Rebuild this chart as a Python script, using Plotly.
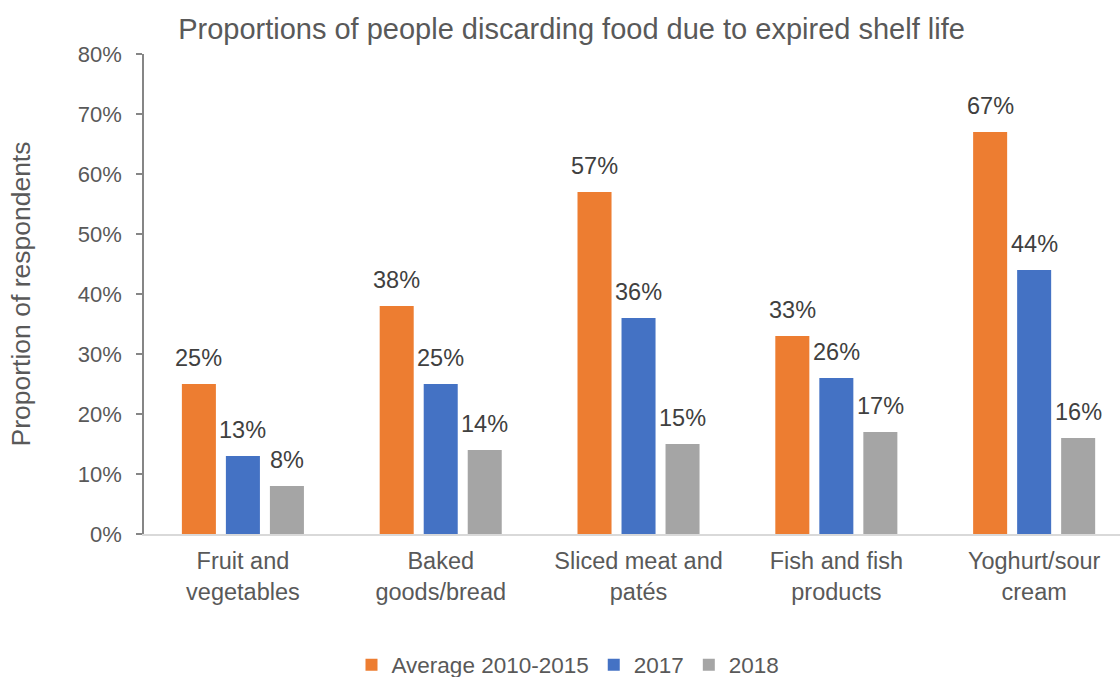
import plotly.graph_objects as go

# Food categories (x axis) and survey results per period, in percent
categories = [
    "Fruit and<br>vegetables",
    "Baked<br>goods/bread",
    "Sliced meat and<br>patés",
    "Fish and fish<br>products",
    "Yoghurt/sour<br>cream",
]
series_names = ["Average 2010-2015", "2017", "2018"]
avg_2010_2015 = [25, 38, 57, 33, 67]
year_2017 = [13, 25, 36, 26, 44]
year_2018 = [8, 14, 15, 17, 16]
y_ticks = [0, 10, 20, 30, 40, 50, 60, 70, 80]

colors = ["#ED7D31", "#4472C4", "#A5A5A5"]
font_family = "Liberation Sans, Arial, sans-serif"

WIDTH, HEIGHT = 1120, 677
MARGIN = dict(l=144, r=0, t=54, b=143)
X_RANGE = [-0.5, 4.434]
BARGAP = 0.3325
BARGROUPGAP = 0.227

all_series = [avg_2010_2015, year_2017, year_2018]

fig = go.Figure()
for name, values, color in zip(series_names, all_series, colors):
    fig.add_trace(go.Bar(
        x=categories,
        y=values,
        name=name,
        marker=dict(color=color, line=dict(width=0)),
        hoverinfo="skip",
    ))

# Value labels above each bar, offset horizontally to the bar's slot in its group
plot_w = WIDTH - MARGIN["l"] - MARGIN["r"]
cat_px = plot_w / (X_RANGE[1] - X_RANGE[0])
slot_px = (1 - BARGAP) * cat_px / len(all_series)
for i, values in enumerate(all_series):
    shift = (i - (len(all_series) - 1) / 2) * slot_px
    for cat, v in zip(categories, values):
        fig.add_annotation(
            x=cat, y=v, xref="x", yref="y",
            text=f"{v}%",
            showarrow=False,
            xanchor="center", yanchor="bottom",
            xshift=shift, yshift=11,
            font=dict(size=23.5, color="#404040", family=font_family),
        )

fig.update_layout(
    width=WIDTH,
    height=HEIGHT,
    paper_bgcolor="white",
    plot_bgcolor="white",
    barmode="group",
    bargap=BARGAP,
    bargroupgap=BARGROUPGAP,
    margin=MARGIN,
    font=dict(family=font_family, color="#595959"),
    title=dict(
        text="Proportions of people discarding food due to expired shelf life",
        font=dict(size=29, color="#595959", family=font_family),
        x=571.5 / WIDTH, xref="container", xanchor="center",
        y=1 - 29 / HEIGHT, yref="container", yanchor="middle",
    ),
    legend=dict(
        orientation="h",
        x=568 / WIDTH, xref="container", xanchor="center",
        y=12 / HEIGHT, yref="container", yanchor="middle",
        font=dict(size=22.5, color="#595959"),
        itemwidth=30,
        traceorder="normal",
    ),
)

fig.update_xaxes(
    type="category",
    range=X_RANGE,
    showline=True,
    linecolor="#D9D9D9",
    linewidth=1.5,
    ticks="",
    showgrid=False,
    tickfont=dict(size=23.5, color="#595959"),
    ticklabelstandoff=5,
    fixedrange=True,
)

fig.update_yaxes(
    range=[0, 80],
    tickvals=y_ticks,
    ticktext=[f"{t}%" for t in y_ticks],
    showline=True,
    linecolor="#868686",
    linewidth=1.5,
    ticks="outside",
    ticklen=6,
    tickcolor="#868686",
    tickwidth=1.5,
    showgrid=False,
    zeroline=False,
    tickfont=dict(size=22, color="#595959"),
    ticklabelstandoff=10,
    title=dict(text="Proportion of respondents", font=dict(size=26.5, color="#595959"), standoff=40),
    fixedrange=True,
)

fig.write_html("out.html")
